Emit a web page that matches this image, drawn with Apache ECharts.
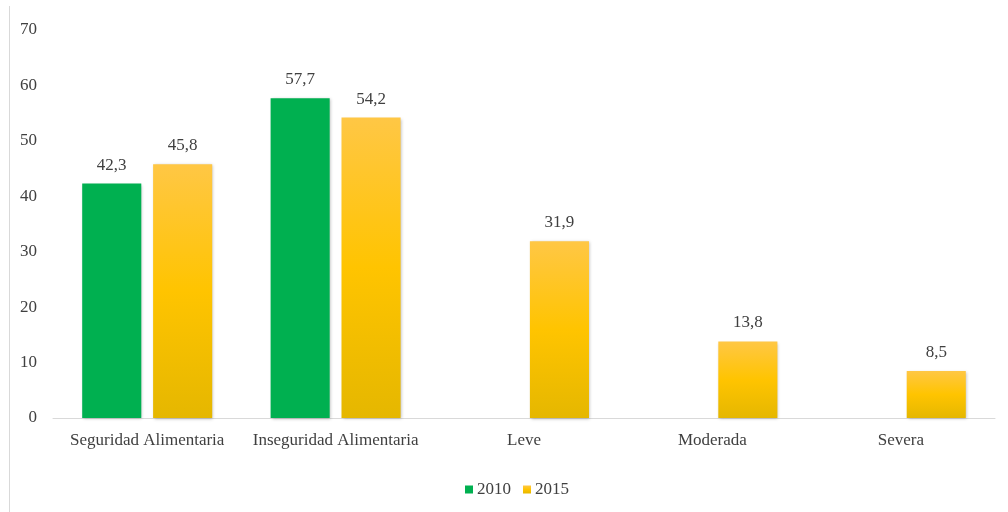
<!DOCTYPE html>
<html>
<head>
<meta charset="utf-8">
<script src="https://cdn.jsdelivr.net/npm/echarts@6/dist/echarts.min.js"></script>
<style>
  html, body { margin: 0; padding: 0; background: #fff; }
  #chart { width: 1008px; height: 512px; }
</style>
</head>
<body>
<div id="chart"></div>
<script>
// Data
const categories = ['Seguridad Alimentaria', 'Inseguridad Alimentaria', 'Leve', 'Moderada', 'Severa'];
const values2010 = [42.3, 57.7, null, null, null];
const values2015 = [45.8, 54.2, 31.9, 13.8, 8.5];
const yTicks = [0, 10, 20, 30, 40, 50, 60, 70];

const font = '"Liberation Serif", "DejaVu Serif", serif';
const textColor = '#404040';

const chart = echarts.init(document.getElementById('chart'));

const labelFmt = p => (p.value == null ? '' : p.value.toFixed(1).replace('.', ','));

const barLabel = {
  show: true,
  position: 'top',
  distance: 10,
  formatter: labelFmt,
  fontFamily: font,
  fontSize: 17,
  color: textColor
};

chart.setOption({
  animation: false,
  textStyle: { fontFamily: font },
  grid: { left: 53, right: 13, top: 30, bottom: 94 },
  legend: {
    bottom: 9,
    left: 460,
    itemWidth: 8,
    itemHeight: 8,
    itemGap: 12,
    icon: 'rect',
    textStyle: { fontFamily: font, fontSize: 17, color: textColor, padding: [0, 0, 0, -1] },
    data: ['2010', '2015']
  },
  graphic: [{
    type: 'line',
    shape: { x1: 9.5, y1: 6, x2: 9.5, y2: 512 },
    style: { stroke: '#d9d9d9', lineWidth: 1 }
  }],
  xAxis: {
    type: 'category',
    data: categories,
    axisLine: { lineStyle: { color: '#d9d9d9' } },
    axisTick: { show: false },
    axisLabel: { interval: 0, fontFamily: font, fontSize: 17, color: textColor, margin: 14 }
  },
  yAxis: {
    type: 'value',
    min: yTicks[0],
    max: yTicks[yTicks.length - 1],
    interval: 10,
    splitLine: { show: false },
    axisLine: { show: false },
    axisTick: { show: false },
    axisLabel: { fontFamily: font, fontSize: 17, color: textColor, margin: 16 }
  },
  series: [
    {
      name: '2010',
      type: 'bar',
      data: values2010,
      barGap: '20%',
      barCategoryGap: '31%',
      itemStyle: {
        color: '#00B050',
        shadowColor: 'rgba(0,0,0,0.25)',
        shadowBlur: 3,
        shadowOffsetX: 1,
        shadowOffsetY: 1
      },
      label: barLabel
    },
    {
      name: '2015',
      type: 'bar',
      data: values2015,
      itemStyle: {
        color: new echarts.graphic.LinearGradient(0, 0, 0, 1, [
          { offset: 0, color: '#FFC745' },
          { offset: 0.5, color: '#FFC400' },
          { offset: 1, color: '#E5B700' }
        ]),
        shadowColor: 'rgba(0,0,0,0.25)',
        shadowBlur: 3,
        shadowOffsetX: 1,
        shadowOffsetY: 1
      },
      label: barLabel
    }
  ]
});
</script>
</body>
</html>
